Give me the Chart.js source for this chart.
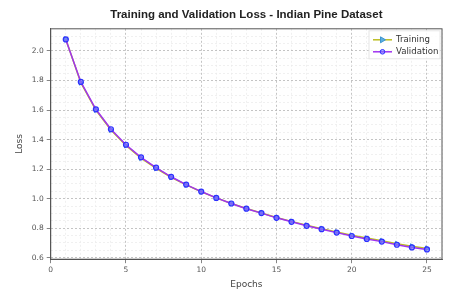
<!DOCTYPE html>
<html>
<head>
<meta charset="utf-8">
<script src="https://cdn.jsdelivr.net/npm/chart.js@4.4.0/dist/chart.umd.min.js"></script>
<style>
  html, body { margin: 0; padding: 0; background: #fff; }
  #wrap { width: 458px; height: 299px; }
</style>
</head>
<body>
<div id="wrap"><canvas id="lossChart"></canvas></div>
<script>
// data
const epochs = [1,2,3,4,5,6,7,8,9,10,11,12,13,14,15,16,17,18,19,20,21,22,23,24,25];
const trainingLoss = [2.080,1.785,1.600,1.465,1.360,1.275,1.205,1.145,1.093,1.047,1.005,0.967,0.933,0.903,0.872,0.846,0.820,0.797,0.774,0.752,0.733,0.715,0.695,0.678,0.663];
const validationLoss = [2.078,1.790,1.605,1.470,1.365,1.280,1.210,1.148,1.095,1.048,1.005,0.967,0.932,0.902,0.870,0.843,0.816,0.793,0.770,0.747,0.727,0.709,0.688,0.670,0.656];
const xTicks = [0,5,10,15,20,25];
const yTicks = [0.6,0.8,1.0,1.2,1.4,1.6,1.8,2.0];
const yMinor = [0.6,0.65,0.7,0.75,0.8,0.85,0.9,0.95,1.0,1.05,1.1,1.15,1.2,1.25,1.3,1.35,1.4,1.45,1.5,1.55,1.6,1.65,1.7,1.75,1.8,1.85,1.9,1.95,2.0,2.05,2.1];

const isMajor = (v, list) => list.some(t => Math.abs(t - v) < 1e-6);

// frame around plot + legend box inside the top right corner
const framePlugin = {
  id: 'frame',
  afterDraw(chart) {
    const { ctx, chartArea: a } = chart;
    ctx.save();
    ctx.strokeStyle = '#555';
    ctx.lineWidth = 1;
    ctx.strokeRect(a.left, a.top, a.right - a.left, a.bottom - a.top);

    // legend
    const bx = a.right - 73, by = a.top + 2, bw = 71, bh = 28;
    ctx.fillStyle = 'rgba(255,255,255,0.85)';
    ctx.strokeStyle = '#e6e6e6';
    ctx.fillRect(bx, by, bw, bh);
    ctx.strokeRect(bx, by, bw, bh);
    const items = chart.data.datasets.slice().sort((p, q) => p.legendIndex - q.legendIndex);
    items.forEach((ds, i) => {
      const y = by + 9 + i * 12;
      const x0 = bx + 4, x1 = bx + 23;
      ctx.strokeStyle = ds.borderColor;
      ctx.lineWidth = 1.5;
      ctx.beginPath(); ctx.moveTo(x0, y); ctx.lineTo(x1, y); ctx.stroke();
      ctx.fillStyle = ds.pointBackgroundColor;
      ctx.strokeStyle = ds.pointBorderColor;
      ctx.lineWidth = 1;
      const cx = (x0 + x1) / 2;
      ctx.beginPath();
      if (ds.pointStyle === 'circle') {
        ctx.arc(cx, y, 2.3, 0, Math.PI * 2);
      } else {
        ctx.moveTo(cx + 3, y); ctx.lineTo(cx - 2, y - 3); ctx.lineTo(cx - 2, y + 3); ctx.closePath();
      }
      ctx.fill(); ctx.stroke();
      ctx.fillStyle = '#333';
      ctx.font = '8.6px "DejaVu Sans"';
      ctx.textBaseline = 'middle';
      ctx.fillText(ds.label, x1 + 4, y);
    });
    ctx.restore();
  }
};

new Chart(document.getElementById('lossChart'), {
  type: 'line',
  data: {
    datasets: [
      {
        label: 'Training',
        legendIndex: 0,
        data: epochs.map((e, i) => ({ x: e, y: trainingLoss[i] })),
        borderColor: '#bcbd22',
        borderWidth: 1.5,
        pointStyle: 'triangle',
        pointRotation: 90,
        pointRadius: 2.8,
        pointBackgroundColor: '#5aaee0',
        pointBorderColor: '#3d95d0',
        pointBorderWidth: 1,
        order: 1
      },
      {
        label: 'Validation',
        legendIndex: 1,
        data: epochs.map((e, i) => ({ x: e, y: validationLoss[i] })),
        borderColor: '#a033f0',
        borderWidth: 1.5,
        pointStyle: 'circle',
        pointRadius: 2.5,
        pointBackgroundColor: 'rgba(120,120,255,0.6)',
        pointBorderColor: '#2f2fff',
        pointBorderWidth: 1.2,
        order: 0
      }
    ]
  },
  options: {
    responsive: true,
    maintainAspectRatio: false,
    animation: false,
    layout: { padding: { left: 10, right: 16, top: 2, bottom: 5 } },
    plugins: {
      legend: { display: false },
      tooltip: { enabled: false },
      title: {
        display: true,
        fullSize: false,
        text: 'Training and Validation Loss - Indian Pine Dataset',
        color: '#222',
        font: { family: '"Liberation Sans", Arial, sans-serif', size: 11.5, weight: 'bold' },
        padding: { top: 6, bottom: 7 }
      }
    },
    scales: {
      x: {
        type: 'linear',
        min: 0,
        max: 26,
        ticks: {
          stepSize: 1,
          autoSkip: false,
          maxRotation: 0,
          color: '#555',
          font: { family: '"DejaVu Sans"', size: 7.5 },
          padding: 2,
          callback: v => isMajor(v, xTicks) ? String(v) : ''
        },
        grid: {
          color: c => isMajor(c.tick.value, xTicks) ? '#b5b5b5' : '#ececec',
          tickColor: c => isMajor(c.tick.value, xTicks) ? '#666' : 'rgba(0,0,0,0)',
          tickLength: 4,
          lineWidth: 0.8
        },
        border: { color: '#555', width: 1, dash: [2, 2] },
        title: {
          display: true,
          text: 'Epochs',
          color: '#444',
          font: { family: '"DejaVu Sans"', size: 9 },
          padding: { top: 3 }
        }
      },
      y: {
        min: 0.59,
        max: 2.15,
        afterBuildTicks: scale => { scale.ticks = yMinor.map(v => ({ value: v })); },
        ticks: {
          autoSkip: false,
          color: '#555',
          font: { family: '"DejaVu Sans"', size: 7.5 },
          padding: 3,
          callback: v => isMajor(v, yTicks) ? v.toFixed(1) : ''
        },
        grid: {
          color: c => isMajor(c.tick.value, yTicks) ? '#b5b5b5' : '#ececec',
          tickColor: c => isMajor(c.tick.value, yTicks) ? '#666' : 'rgba(0,0,0,0)',
          tickLength: 4,
          lineWidth: 0.8
        },
        border: { color: '#555', width: 1, dash: [2, 2] },
        title: {
          display: true,
          text: 'Loss',
          color: '#444',
          font: { family: '"DejaVu Sans"', size: 9 },
          padding: { bottom: 4 }
        }
      }
    }
  },
  plugins: [framePlugin]
});
</script>
</body>
</html>
